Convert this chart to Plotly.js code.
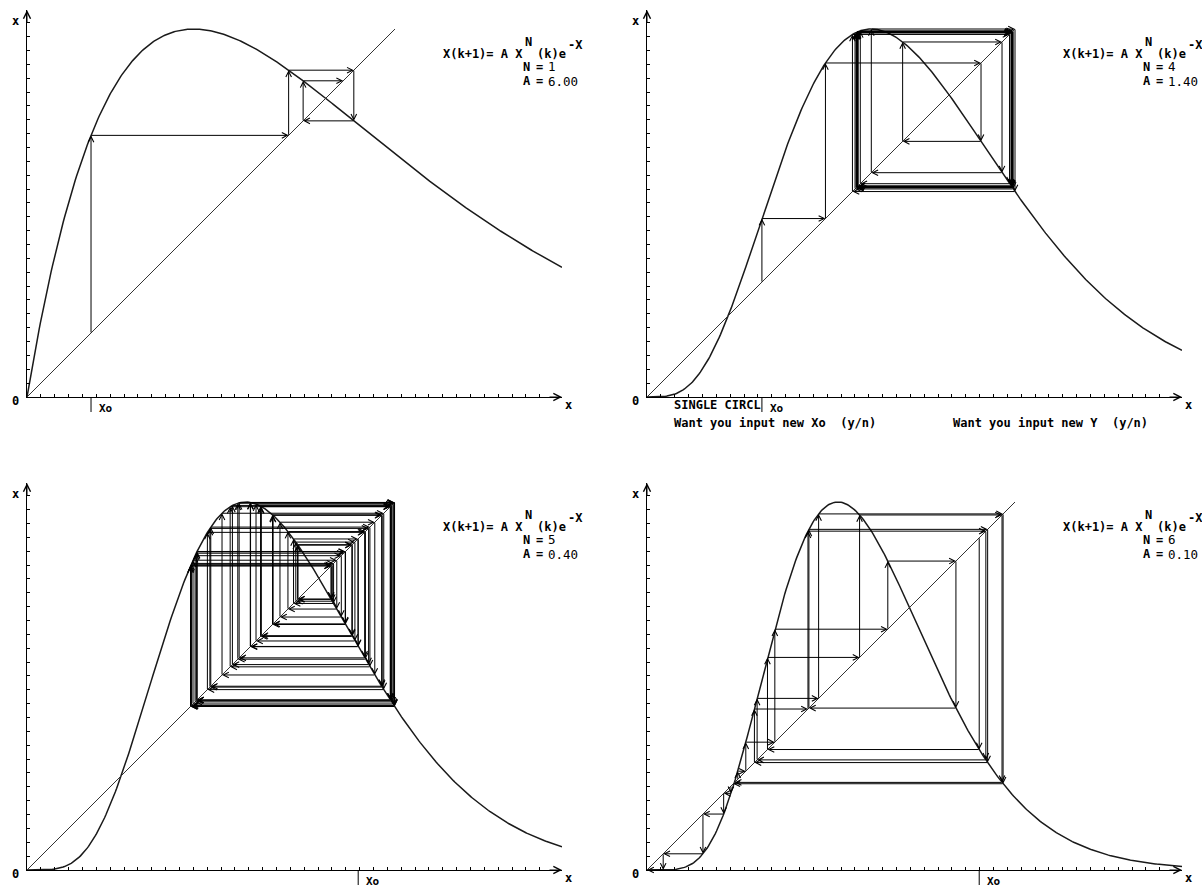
<!DOCTYPE html>
<html>
<head>
<meta charset="utf-8">
<script src="https://cdn.plot.ly/plotly-3.0.1.min.js"></script>
<style>
html, body { margin: 0; padding: 0; background: #fff; }
#chart { width: 1202px; height: 891px; }
</style>
</head>
<body>
<div id="chart"></div>
<script>
// four cobweb diagrams of  x(k+1) = A * x(k)^N * e^-x(k)
var N_VALUES = [1, 4, 5, 6];
var A_VALUES = [6.00, 1.40, 0.40, 0.10];
var A_LABELS = ['6.00', '1.40', '0.40', '0.10'];
var X0_VALUES = [0.384, 2.05, 7.58, 10.44];
var STEPS = [4, 40, 60, 80];
var PROMPTS = ['SINGLE CIRCL', 'Want you input new Xo\u00a0\u00a0(y/n)', 'Want you input new Y\u00a0\u00a0(y/n)'];

var W = 1202, H = 891;
var ORIGINS = [[27, 397], [647, 397], [27, 870], [647, 870]];
var AXIS_W = 535, AXIS_H = 387, TOP_H = 368, TICK_PX = 13.86;
var FONT = {family: 'DejaVu Sans Mono', size: 12, color: '#000', weight: 'bold'};
var SMALL = {family: 'DejaVu Sans Mono', size: 11, color: '#000', weight: 'bold'};
var NUM = {family: 'DejaVu Sans Mono', size: 12.5, color: '#000'};

function f(x, n, a) { return a * Math.pow(x, n) * Math.exp(-x); }

function label(text, x, y, font, anchor) {
    return {xref: 'paper', yref: 'paper', x: x / W, y: 1 - y / H, text: text,
        showarrow: false, xanchor: anchor || 'left', yanchor: 'middle', font: font || FONT};
}

function arrow(xa, ya, x1, y1, x2, y2) {
    return {xref: xa, yref: ya, axref: xa, ayref: ya, ax: x1, ay: y1, x: x2, y: y2,
        text: '', showarrow: true, arrowhead: 5, arrowsize: 1.1, arrowwidth: 1,
        arrowcolor: '#000', borderpad: 0};
}

var data = [], annotations = [], shapes = [];
var layout = {
    width: W, height: H,
    margin: {l: 0, r: 0, t: 0, b: 0},
    paper_bgcolor: '#fff', plot_bgcolor: 'rgba(0,0,0,0)',
    showlegend: false,
    annotations: annotations,
    shapes: shapes
};

N_VALUES.forEach(function (n, i) {
    var a = A_VALUES[i];
    var ox = ORIGINS[i][0], oy = ORIGINS[i][1];
    var dx = ox - ORIGINS[0][0], dy = oy - ORIGINS[0][1];
    var fmax = f(n, n, a);          // peak of the curve sits at the top tick
    var s = TOP_H / fmax;           // pixels per unit, same on both axes
    var xmax = AXIS_W / s, ymax = AXIS_H / s;
    var sfx = i === 0 ? '' : String(i + 1);
    var xa = 'x' + sfx, ya = 'y' + sfx;

    var tx = [], ty = [], k;
    for (k = 1; k <= 37; k++) tx.push(k * TICK_PX / s);
    for (k = 1; k <= 27; k++) ty.push(k * TICK_PX / s);

    var common = {showgrid: false, zeroline: false, showline: true, linecolor: '#000', linewidth: 1,
        ticks: 'inside', ticklen: 3, tickwidth: 1, tickcolor: '#000', showticklabels: false,
        tickmode: 'array', fixedrange: true};
    layout['xaxis' + sfx] = Object.assign({}, common, {
        domain: [ox / W, (ox + AXIS_W) / W], range: [0, xmax], anchor: ya, tickvals: tx});
    layout['yaxis' + sfx] = Object.assign({}, common, {
        domain: [(H - oy) / H, (H - oy + AXIS_H) / H], range: [0, ymax], anchor: xa, tickvals: ty});

    // the map itself, as printed on the chart
    var cx = [], cy = [];
    for (k = 0; k <= 400; k++) {
        var xv = xmax * k / 400;
        cx.push(xv);
        cy.push(f(xv, n, a));
    }
    data.push({x: cx, y: cy, xaxis: xa, yaxis: ya, type: 'scatter', mode: 'lines',
        line: {color: '#1a1a1a', width: 1.5}, hoverinfo: 'skip'});
    data.push({x: [0, fmax], y: [0, fmax], xaxis: xa, yaxis: ya, type: 'scatter', mode: 'lines',
        line: {color: '#333', width: 1}, hoverinfo: 'skip'});

    // cobweb
    var p = X0_VALUES[i];
    for (k = 0; k < STEPS[i]; k++) {
        var q = f(p, n, a);
        if (Math.abs(q - p) * s < 0.5) break;
        annotations.push(arrow(xa, ya, p, p, p, q));
        annotations.push(arrow(xa, ya, p, q, q, q));
        p = q;
    }

    // axis arrows
    annotations.push({xref: xa, yref: ya, x: xmax, y: 0, ax: -14, ay: 0, text: '', showarrow: true,
        arrowhead: 5, arrowsize: 1.4, arrowwidth: 1, arrowcolor: '#000'});
    annotations.push({xref: xa, yref: ya, x: 0, y: ymax, ax: 0, ay: 14, text: '', showarrow: true,
        arrowhead: 5, arrowsize: 1.4, arrowwidth: 1, arrowcolor: '#000'});

    // axis letters
    annotations.push(label('x', 15 + dx, 21 + dy, FONT, 'center'));
    annotations.push(label('0', 15 + dx, 401 + dy, FONT, 'center'));
    annotations.push(label('x', 568 + dx, 405 + dy, FONT, 'center'));

    // formula block
    annotations.push(label('X(k+1)= A X', 441 + dx, 54 + dy));
    annotations.push(label('N', 523 + dx, 42 + dy));
    annotations.push(label('(k)e', 535 + dx, 54 + dy));
    annotations.push(label('-X', 566 + dx, 45 + dy));
    annotations.push(label('N', 521 + dx, 67 + dy));
    annotations.push(label('=', 534 + dx, 67 + dy));
    annotations.push(label(String(n), 546 + dx, 66 + dy, NUM));
    annotations.push(label('A', 521 + dx, 81 + dy));
    annotations.push(label('=', 534 + dx, 81 + dy));
    annotations.push(label(A_LABELS[i], 546 + dx, 81 + dy, NUM));

    // Xo mark under the axis
    shapes.push({type: 'line', xref: xa, yref: 'paper', x0: X0_VALUES[i], x1: X0_VALUES[i],
        y0: 1 - oy / H, y1: 1 - (oy + 15) / H, line: {color: '#000', width: 1}});
    annotations.push({xref: xa, yref: 'paper', x: X0_VALUES[i], y: 1 - (oy + 11) / H, xshift: 6,
        text: 'Xo', showarrow: false, xanchor: 'left', yanchor: 'middle', font: SMALL});
});

// prompt lines of the program, under panel 2
annotations.push(label(PROMPTS[0], 672, 405));
annotations.push(label(PROMPTS[1], 672, 423));
annotations.push(label(PROMPTS[2], 951, 423));

Plotly.newPlot('chart', data, layout, {displayModeBar: false, staticPlot: true});
</script>
</body>
</html>
